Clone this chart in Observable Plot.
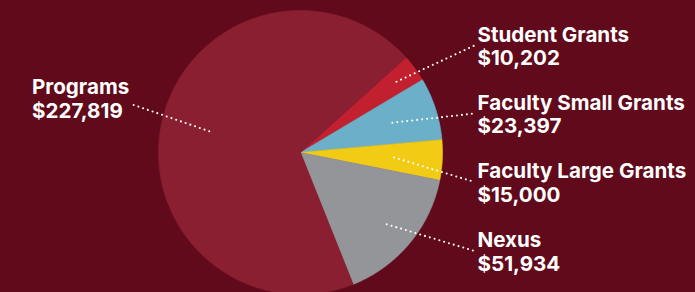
<!DOCTYPE html>
<html>
<head>
<meta charset="utf-8">
<script src="https://cdn.jsdelivr.net/npm/d3@7"></script>
<script src="https://cdn.jsdelivr.net/npm/@observablehq/plot@0.6"></script>
<style>
  html, body { margin: 0; padding: 0; background: #600a1b; }
  #chart { width: 695px; height: 292px; overflow: hidden; }
  svg { display: block; }
</style>
</head>
<body>
<div id="chart"></div>
<script>
// ---- data ----
const categories = ["Student Grants", "Faculty Small Grants", "Faculty Large Grants", "Nexus", "Programs"];
const amounts = [10202, 23397, 15000, 51934, 227819];
const amountLabels = ["$10,202", "$23,397", "$15,000", "$51,934", "$227,819"];
const sliceColors = ["#c3202f", "#6cafc8", "#f1cb14", "#949598", "#891f31"];

// ---- layout (pixels) ----
const W = 695, H = 292;
const cx = 300, cy = 152, R = 142;
const startDeg = 48;
// label anchor: x, baseline of first line
const labelLayout = [
  {x: 477, y: 41, leaderR: 0.84},
  {x: 477, y: 109, leaderR: 0.68},
  {x: 477, y: 177.5, leaderR: 0.66},
  {x: 477, y: 246.5, leaderR: 0.79},
  {x: 31.5, y: 93.7, leaderR: 0.66, endX: 129, endY: 103}
];
const lineGap = 23.8;
const fontSize = 20.6;

const rows = categories.map((c, i) => ({category: c, amount: amounts[i], label: amountLabels[i]}));
const a0 = startDeg * Math.PI / 180;
const arcs = d3.pie().sort(null).value(d => d.amount).startAngle(a0).endAngle(a0 + 2 * Math.PI)(rows);

// polygon vertices for each slice (angle clockwise from 12 o'clock)
const pts = [];
for (const a of arcs) {
  const cat = a.data.category;
  pts.push({category: cat, x: cx, y: cy});
  const n = Math.max(8, Math.ceil((a.endAngle - a.startAngle) / (Math.PI / 360)));
  for (let k = 0; k <= n; k++) {
    const t = a.startAngle + (a.endAngle - a.startAngle) * k / n;
    pts.push({category: cat, x: cx + R * Math.sin(t), y: cy - R * Math.cos(t)});
  }
  pts.push({category: cat, x: cx, y: cy});
}

// leaders
const leaders = arcs.map((a, i) => {
  const L = labelLayout[i];
  const mid = (a.startAngle + a.endAngle) / 2;
  const r = R * L.leaderR;
  return {
    x1: cx + r * Math.sin(mid), y1: cy - r * Math.cos(mid),
    x2: L.endX ?? (L.x - 3), y2: L.endY ?? (L.y + 4)
  };
});

const labels = arcs.map((a, i) => ({
  text: a.data.category + "\n" + a.data.label,
  x: labelLayout[i].x, y: labelLayout[i].y + lineGap
}));

const plot = Plot.plot({
  width: W, height: H,
  margin: 0,
  style: {background: "#600a1b", overflow: "hidden"},
  x: {domain: [0, W], range: [0, W], axis: null},
  y: {domain: [0, H], range: [0, H], axis: null},
  color: {domain: categories, range: sliceColors},
  marks: [
    Plot.line(pts, {x: "x", y: "y", z: "category", fill: "category", stroke: "category", strokeWidth: 0.6, curve: "linear-closed"}),
    Plot.link(leaders, {x1: "x1", y1: "y1", x2: "x2", y2: "y2", stroke: "white", strokeWidth: 2.1, strokeDasharray: "0 5", strokeLinecap: "round"}),
    Plot.text(labels, {x: "x", y: "y", text: "text", textAnchor: "start", lineAnchor: "bottom", lineHeight: lineGap / fontSize,
      fill: "white", fontSize: fontSize, fontWeight: 700, fontFamily: "Inter, 'Open Sans', sans-serif"})
  ]
});
document.getElementById("chart").appendChild(plot);
</script>
</body>
</html>
